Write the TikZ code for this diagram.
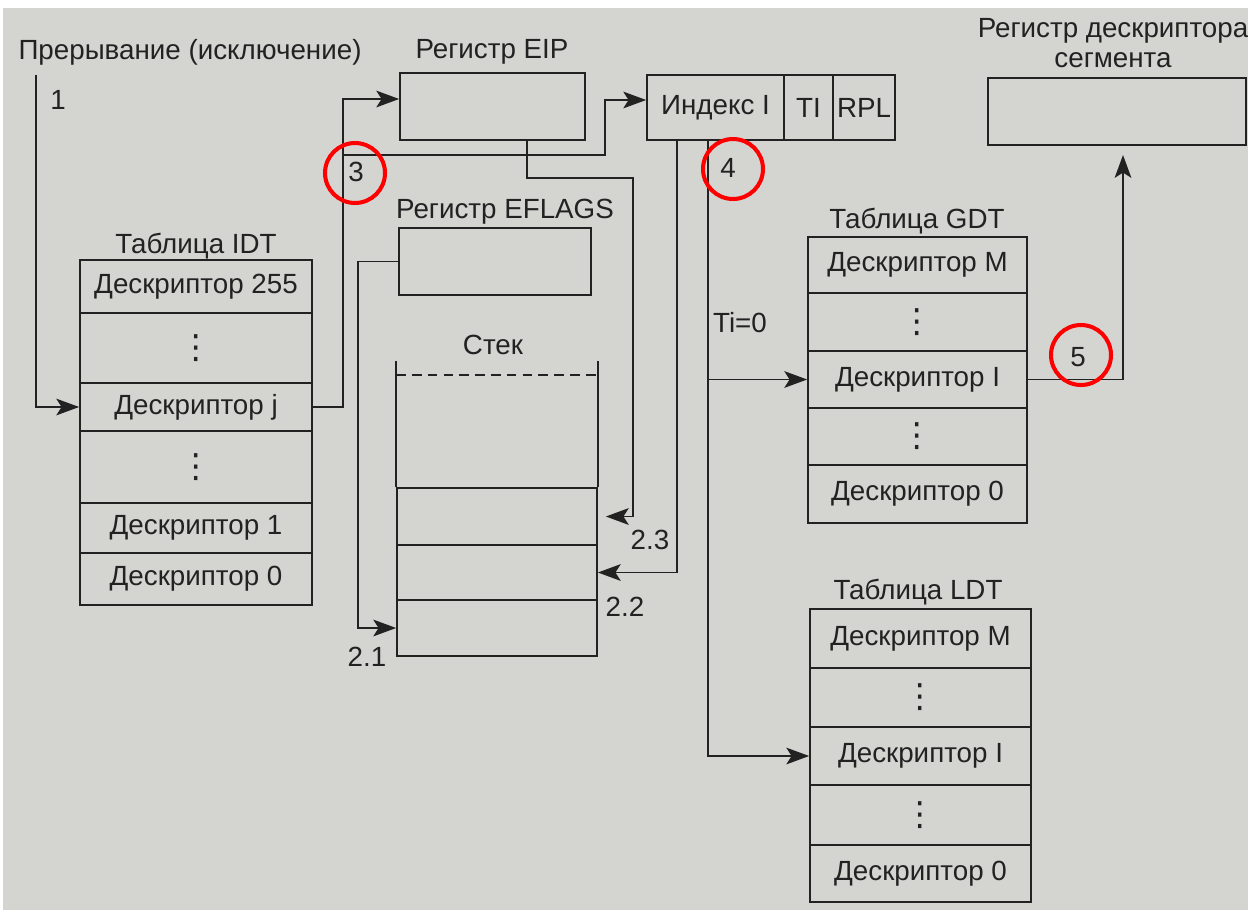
\documentclass[tikz,border=0pt]{standalone}
\usepackage{amsmath,amssymb}
\usepackage{fontspec}
\setmainfont{Liberation Sans}
\newfontfamily\dotfont{DejaVu Sans}
\usepackage{xcolor}
\usepackage{tikz}
\usetikzlibrary{arrows.meta,positioning,calc}
\definecolor{paper}{RGB}{212,213,209}
\definecolor{ink}{RGB}{34,34,34}
\newcommand{\vdt}{{\dotfont\fontsize{19}{19}\selectfont ⋮}}

\begin{document}
\begin{tikzpicture}[x=0.02cm,y=-0.02cm,
    font=\fontsize{15.8}{17}\selectfont,
    ln/.style={line width=1pt,ink},
    arr/.style={ln,-{Stealth[length=13pt,width=9.5pt,inset=3pt]}},
    cell/.style={draw=ink,line width=1pt,inner sep=0pt,text=ink},
    reg/.style={draw=ink,line width=1pt,minimum height=1.34cm,inner sep=0pt,text=ink},
    lbl/.style={text=ink,inner sep=1pt},
    ring/.style={circle,draw=red,line width=2.3pt,minimum size=1.2cm,inner sep=0pt}]
\useasboundingbox (0,0) rectangle (1248,913);
\fill[white] (0,0) rectangle (1248,913);
\fill[paper] (3,8) rectangle (1248,910);
% interrupt source
\node[lbl] (int) at (190,52) {Прерывание (исключение)};
\coordinate (p1) at (36,75);
\node[lbl] (n1) at (58,100) {1};
% IDT table
\node[lbl] (tidt) at (196,246) {Таблица IDT};
\foreach \t/\b/\txt [count=\i] in {260/313/Дескриптор 255, 313/383/\vdt,
    383/431/Дескриптор j, 431/503/\vdt, 503/553/Дескриптор 1, 553/605/Дескриптор 0} {
  \pgfmathsetmacro{\h}{(\b-\t)*0.02}
  \node[cell,minimum width=4.64cm,minimum height=\h cm] (idt\i) at (196,{(\t+\b)/2}) {\txt};
}
% registers
\node[lbl] (teip) at (492,52) {Регистр EIP};
\node[reg,minimum width=3.7cm] (eip) at (492.5,106.5) {};
\node[lbl] (tefl) at (505,212) {Регистр EFLAGS};
\node[reg,minimum width=3.84cm] (efl) at (495,261.5) {};
% selector
\node[reg,minimum width=2.74cm,minimum height=1.3cm] (idx) at (715.5,107.5) {Индекс I};
\node[reg,minimum width=0.98cm,minimum height=1.3cm] (ti)  at (808.5,107.5) {TI};
\node[reg,minimum width=1.24cm,minimum height=1.3cm] (rpl) at (864,107.5) {RPL};
% segment descriptor register
\node[lbl,align=center] (tseg) at (1113,43) {Регистр дескриптора\\сегмента};
\node[reg,minimum width=5.16cm] (seg) at (1117,111.5) {};
% stack
\node[lbl] (tstk) at (493,345) {Стек};
\foreach \t/\b [count=\i] in {600/656, 545/600, 488/545} {
  \pgfmathsetmacro{\h}{(\b-\t)*0.02}
  \node[cell,minimum width=4cm,minimum height=\h cm] (stk\i) at (497,{(\t+\b)/2}) {};
}
\draw[ln] (stk3.north west) -- ++(0,-126);
\draw[ln] (stk3.north east) -- ++(0,-126);
\draw[ln,dashed,dash pattern=on 5.5pt off 3.5pt] ([yshift=2.24cm]stk3.north west) -- ([yshift=2.24cm]stk3.north east);
% GDT table
\node[lbl] (tgdt) at (917,221) {Таблица GDT};
\foreach \t/\b/\txt [count=\i] in {237/293/Дескриптор M, 293/351/\vdt,
    351/408/Дескриптор I, 408/465/\vdt, 465/523/Дескриптор 0} {
  \pgfmathsetmacro{\h}{(\b-\t)*0.02}
  \node[cell,minimum width=4.38cm,minimum height=\h cm] (gdt\i) at (917.5,{(\t+\b)/2}) {\txt};
}
% LDT table
\node[lbl] (tldt) at (918,592) {Таблица LDT};
\foreach \t/\b/\txt [count=\i] in {609/668/Дескриптор M, 668/727/\vdt,
    727/785/Дескриптор I, 785/845/\vdt, 845/902/Дескриптор 0} {
  \pgfmathsetmacro{\h}{(\b-\t)*0.02}
  \node[cell,minimum width=4.42cm,minimum height=\h cm] (ldt\i) at (920.5,{(\t+\b)/2}) {\txt};
}
% step 1
\draw[arr] (p1) |- (idt3.west);
% step 3: gate to EIP and selector
\draw[arr] (idt3.east) -- ++(30,0) |- ([yshift=0.15cm]eip.west);
\coordinate (j3) at (342,155);
\draw[arr] (j3) -- ++(263,0) |- ([yshift=0.15cm]idx.west);
% steps 2.1 - 2.3: push to stack
\draw[arr] (efl.west) -- ++(-40,0) |- (stk1.west);
\draw[arr] ([xshift=0.62cm]idx.south west) |- (stk2.east);
\coordinate (k23) at (633,178);
\draw[arr,shorten >=0.16cm] ([xshift=0.69cm]eip.south) |- (k23) |- (stk3.east);
% step 4: descriptor lookup
\coordinate (tisel) at ([xshift=1.24cm]idx.south west);
\draw[arr] (tisel) |- (ldt3.west);
\draw[arr] (tisel |- gdt3.west) -- (gdt3.west);
\node[lbl] (nti) at (740,323) {Ti=0};
% step 5: load segment register
\coordinate (s5) at (1123,155);
\draw[arr] (gdt3.east) -| (s5);
% step labels
\node[lbl] (n21) at (367,657) {2.1};
\node[lbl] (n22) at (625,607) {2.2};
\node[lbl] (n23) at (650,540) {2.3};
\node[lbl] (n3) at (356,172) {3};
\node[lbl] (n4) at (728,168) {4};
\node[lbl] (n5) at (1078,357) {5};
% highlight rings
\node[ring] (r3) at (355,173) {};
\node[ring] (r4) at (733,169) {};
\node[ring] (r5) at (1081,355) {};
\end{tikzpicture}
\end{document}
